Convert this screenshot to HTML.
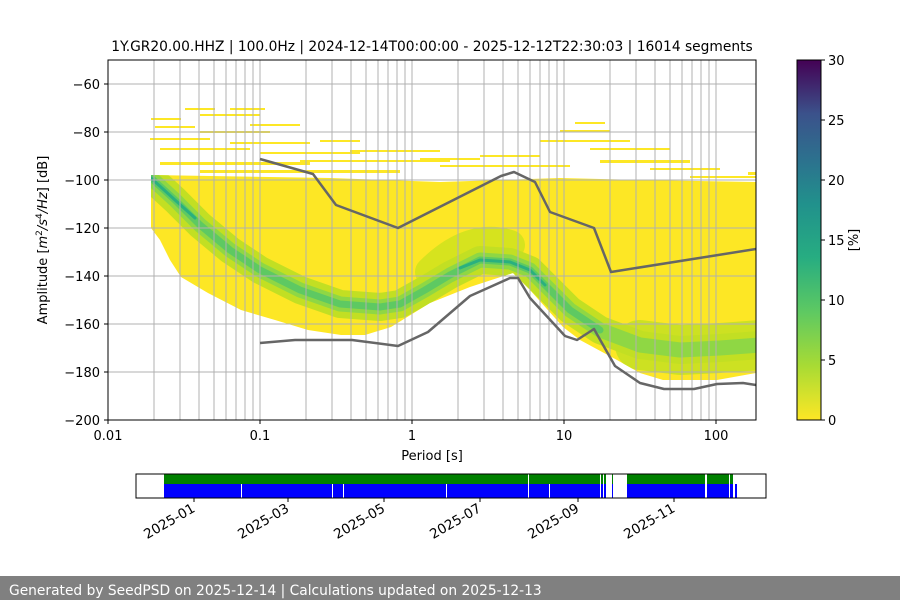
<!DOCTYPE html>
<html><head><meta charset="utf-8"><style>
body{margin:0;background:#fff;width:900px;height:600px;overflow:hidden;font-family:"Liberation Sans","DejaVu Sans",sans-serif}
</style></head><body>
<svg width="900" height="600" xmlns="http://www.w3.org/2000/svg" font-family="DejaVu Sans, Liberation Sans, sans-serif">
<defs>
<linearGradient id="vir" x1="0" y1="1" x2="0" y2="0">
<stop offset="0" stop-color="#fde725"/><stop offset="0.15" stop-color="#a8db34"/><stop offset="0.3" stop-color="#5ec962"/><stop offset="0.45" stop-color="#27ad81"/><stop offset="0.6" stop-color="#21918c"/><stop offset="0.72" stop-color="#2c728e"/><stop offset="0.85" stop-color="#3b528b"/><stop offset="1" stop-color="#440154"/>
</linearGradient>
<clipPath id="env"><path d="M151,175 L330,178 L440,182 L560,178 L640,180 L756,182 L756,373 L717,380 L663,380 L640,373 L617,360 L580,340 L563,327 L530,290 L513,273 L470,287 L430,303 L391,327 L365,335 L341,335 L308,330 L275,320 L241,310 L208,293 L181,277 L170,260 L160,240 L151,228 Z"/></clipPath>
<clipPath id="ax"><rect x="108" y="60" width="648" height="360"/></clipPath>
</defs>
<text x="432" y="51" font-size="13.8" text-anchor="middle">1Y.GR20.00.HHZ | 100.0Hz | 2024-12-14T00:00:00 - 2025-12-12T22:30:03 | 16014 segments</text>
<g clip-path="url(#ax)">
<path d="M151,175 L330,178 L440,182 L560,178 L640,180 L756,182 L756,373 L717,380 L663,380 L640,373 L617,360 L580,340 L563,327 L530,290 L513,273 L470,287 L430,303 L391,327 L365,335 L341,335 L308,330 L275,320 L241,310 L208,293 L181,277 L170,260 L160,240 L151,228 Z" fill="#fde725"/>
<g fill="#fde725">
<rect x="151" y="118" width="30" height="2"/><rect x="155" y="126" width="40" height="2"/><rect x="185" y="108" width="30" height="2"/><rect x="200" y="114" width="60" height="2"/><rect x="230" y="108" width="35" height="2"/><rect x="150" y="138" width="60" height="2"/><rect x="200" y="131" width="70" height="2"/><rect x="250" y="124" width="50" height="2"/><rect x="160" y="148" width="90" height="2"/><rect x="230" y="142" width="80" height="2"/><rect x="260" y="152" width="100" height="2"/><rect x="320" y="140" width="40" height="2"/><rect x="300" y="160" width="150" height="2"/><rect x="350" y="150" width="90" height="2"/><rect x="420" y="158" width="60" height="2"/><rect x="160" y="162" width="150" height="3"/><rect x="200" y="170" width="200" height="3"/><rect x="440" y="165" width="130" height="2"/><rect x="480" y="155" width="60" height="2"/><rect x="540" y="140" width="90" height="2"/><rect x="560" y="130" width="50" height="2"/><rect x="575" y="122" width="30" height="2"/><rect x="590" y="148" width="80" height="2"/><rect x="600" y="160" width="90" height="3"/><rect x="650" y="168" width="70" height="2"/><rect x="690" y="176" width="66" height="2"/><rect x="720" y="188" width="36" height="2"/><rect x="748" y="172" width="8" height="3"/><rect x="520" y="165" width="40" height="2"/><rect x="700" y="195" width="56" height="2"/>
</g>
<g clip-path="url(#env)" fill="none" stroke-linejoin="round" stroke-linecap="round">
<path d="M430,272 Q470,232 510,245" stroke="#d6e31e" stroke-width="30"/>
<path d="M640,345 L680,350 L720,348 L760,345" stroke="#cde122" stroke-width="50"/>
<path d="M151,178 L175,200 L200,225 L230,250 L260,270 L300,290 L340,304 L380,307 L400,304 L425,290 L450,275 L480,260 L510,262 L530,270 L550,290 L570,310 L600,330 L640,345 L680,350 L720,348 L760,345" stroke="#c2df23" stroke-width="28"/>
<path d="M151,178 L175,200 L200,225 L230,250 L260,270 L300,290 L340,304 L380,307 L400,304 L425,290 L450,275 L480,260 L510,262 L530,270 L550,290 L570,310 L600,330 L640,345 L680,350 L720,348 L760,345" stroke="#8fd744" stroke-width="15"/>
<path d="M151,178 L175,200 L200,225 L230,250 L260,270 L300,290 L340,304 L380,307 L400,304 L425,290 L450,275 L480,260 L510,262 L530,270 L550,290 L570,310 L600,330" stroke="#5ec962" stroke-width="7"/>
<path d="M151,178 L175,200 L195,218 M460,268 L480,260 L510,262 L530,270 L545,285" stroke="#2ab07f" stroke-width="3"/>
</g>
<g stroke="#b0b0b0" stroke-width="1">
<path d="M154,60V420M180,60V420M199,60V420M214,60V420M226,60V420M236,60V420M245,60V420M253,60V420M260,60V420M306,60V420M332,60V420M351,60V420M366,60V420M378,60V420M388,60V420M397,60V420M405,60V420M412,60V420M458,60V420M484,60V420M503,60V420M518,60V420M530,60V420M540,60V420M549,60V420M557,60V420M564,60V420M610,60V420M636,60V420M655,60V420M670,60V420M682,60V420M692,60V420M701,60V420M709,60V420M716,60V420"/>
<path d="M108,84H756M108,132H756M108,180H756M108,228H756M108,276H756M108,324H756M108,372H756"/>
</g>
<g fill="none" stroke="#666" stroke-width="2.5" stroke-linejoin="round">
<path d="M260,159 L313,174 L336,205 L398,228 L501,176 L514,172 L535,182 L550,212 L594,228 L611,272 L756,249"/>
<path d="M260,343 L295,340 L352,340 L398,346 L428,332 L470,296 L510,278 L518,278 L530,298 L565,336 L577,340 L594,329 L615,366 L640,383 L664,389 L694,389 L717,384 L743,383 L756,385"/>
</g>
</g>
<rect x="108" y="60" width="648" height="360" fill="none" stroke="#000" stroke-width="1"/>
<g stroke="#000"><path d="M108,420v4M260,420v4M412,420v4M564,420v4M716,420v4M108,84h-4M108,132h-4M108,180h-4M108,228h-4M108,276h-4M108,324h-4M108,372h-4M108,420h-4"/></g>
<g font-size="13" text-anchor="middle"><text x="108" y="440">0.01</text><text x="260" y="440">0.1</text><text x="412" y="440">1</text><text x="564" y="440">10</text><text x="716" y="440">100</text>
<text x="432" y="460">Period [s]</text></g>
<g font-size="13" text-anchor="end"><text x="100" y="89">−60</text><text x="100" y="137">−80</text><text x="100" y="185">−100</text><text x="100" y="233">−120</text><text x="100" y="281">−140</text><text x="100" y="329">−160</text><text x="100" y="377">−180</text><text x="100" y="425">−200</text></g>
<text transform="translate(47,240) rotate(-90)" font-size="13" text-anchor="middle">Amplitude [<tspan font-style="italic">m</tspan><tspan font-size="9" dy="-5">2</tspan><tspan dy="5" font-style="italic">/s</tspan><tspan font-size="9" dy="-5">4</tspan><tspan dy="5" font-style="italic">/Hz</tspan>] [dB]</text>
<rect x="797" y="60" width="24" height="360" fill="url(#vir)" stroke="#000" stroke-width="1"/>
<g stroke="#000"><path d="M821,60h4M821,120h4M821,180h4M821,240h4M821,300h4M821,360h4M821,420h4"/></g>
<g font-size="13"><text x="828" y="65">30</text><text x="828" y="125">25</text><text x="828" y="185">20</text><text x="828" y="245">15</text><text x="828" y="305">10</text><text x="828" y="365">5</text><text x="828" y="425">0</text></g>
<text transform="translate(858,240) rotate(-90)" font-size="13" text-anchor="middle">[%]</text>
<rect x="164" y="474" width="449" height="10" fill="#008000"/><rect x="627" y="474" width="106" height="10" fill="#008000"/>
<rect x="164" y="484" width="449" height="14" fill="#0000ff"/><rect x="627" y="484" width="110" height="14" fill="#0000ff"/>
<g fill="#fff"><rect x="241" y="484" width="1" height="14"/><rect x="332" y="484" width="1" height="14"/><rect x="343" y="484" width="1" height="14"/><rect x="446" y="484" width="1" height="14"/><rect x="528" y="474" width="1" height="24"/><rect x="549" y="484" width="1" height="14"/><rect x="600" y="474" width="1" height="24"/><rect x="603" y="474" width="1" height="24"/><rect x="606" y="474" width="6" height="24"/><rect x="705" y="474" width="2" height="24"/><rect x="729" y="474" width="1" height="24"/><rect x="733" y="484" width="2" height="14"/></g>
<rect x="136" y="474" width="630" height="24" fill="none" stroke="#000" stroke-width="1"/>
<g stroke="#000"><path d="M194,498v4M288,498v4M384,498v4M480,498v4M578,498v4M674,498v4"/></g>
<g font-size="13.5" text-anchor="end"><text transform="translate(196,511) rotate(-30)">2025-01</text><text transform="translate(290,511) rotate(-30)">2025-03</text><text transform="translate(386,511) rotate(-30)">2025-05</text><text transform="translate(482,511) rotate(-30)">2025-07</text><text transform="translate(580,511) rotate(-30)">2025-09</text><text transform="translate(676,511) rotate(-30)">2025-11</text></g>
<rect x="0" y="576" width="900" height="24" fill="#808080"/>
<text x="9" y="595" font-size="13.8" fill="#fff">Generated by SeedPSD on 2025-12-14 | Calculations updated on 2025-12-13</text>
</svg>
</body></html>
